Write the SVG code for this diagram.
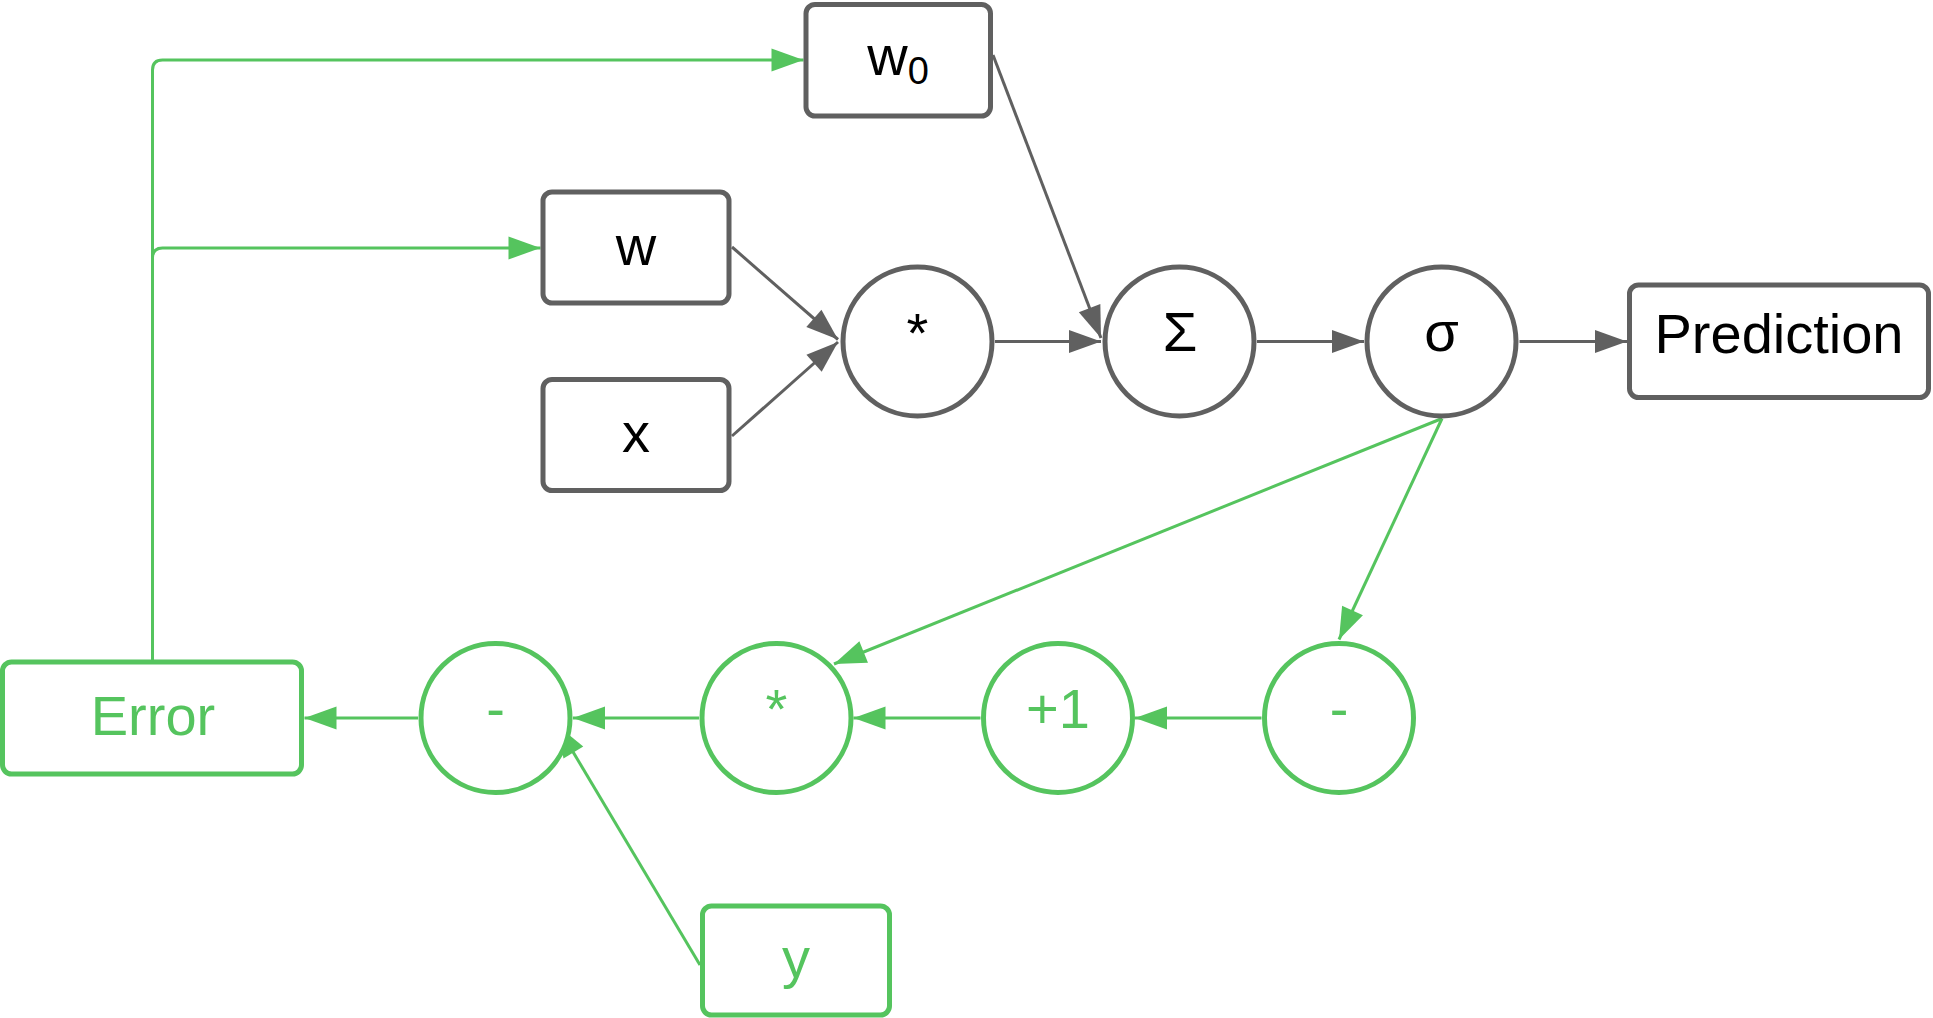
<svg xmlns="http://www.w3.org/2000/svg" width="1933" height="1018" viewBox="0 0 1933 1018">
  <style>
    .box-g { fill: #ffffff; stroke: #606060; stroke-width: 5; }
    .box-n { fill: #ffffff; stroke: #55c45e; stroke-width: 5; }
    .lbl { font-family: "Liberation Sans", Arial, sans-serif; font-size: 56px; text-anchor: middle; }
    .lbl-g { fill: #000000; }
    .lbl-n { fill: #55c45e; }
    .edge-g { fill: none; stroke: #606060; stroke-width: 3; marker-end: url(#arrow-g); }
    .edge-n { fill: none; stroke: #55c45e; stroke-width: 3; marker-end: url(#arrow-n); }
  </style>
  <defs>
    <marker id="arrow-g" markerUnits="userSpaceOnUse" markerWidth="34" markerHeight="24" viewBox="0 0 34 24" refX="33" refY="12" orient="auto">
      <path d="M1,0.5 L33,12 L1,23.5 Z" fill="#606060"/>
    </marker>
    <marker id="arrow-n" markerUnits="userSpaceOnUse" markerWidth="34" markerHeight="24" viewBox="0 0 34 24" refX="33" refY="12" orient="auto">
      <path d="M1,0.5 L33,12 L1,23.5 Z" fill="#55c45e"/>
    </marker>
  </defs>

  <rect width="1933" height="1018" fill="#ffffff"/>

  <!-- connectors -->
  <g id="connectors">
    <!-- forward pass -->
    <path class="edge-g" d="M732,247 L838,339.5"/>
    <path class="edge-g" d="M732,436 L838,342"/>
    <path class="edge-g" d="M993,55 L1101,338"/>
    <path class="edge-g" d="M995,341.5 L1101,341.5"/>
    <path class="edge-g" d="M1257,341.5 L1364,341.5"/>
    <path class="edge-g" d="M1519.5,341.5 L1627,341.5"/>
    <!-- backward pass -->
    <path class="edge-n" d="M1442,418.5 L834,664"/>
    <path class="edge-n" d="M1442,418.5 L1339,639.5"/>
    <path class="edge-n" d="M1261.5,718 L1135,718"/>
    <path class="edge-n" d="M980.5,718 L853.5,718"/>
    <path class="edge-n" d="M699,718 L573,718"/>
    <path class="edge-n" d="M418,718 L304.5,718"/>
    <path class="edge-n" d="M700,965 L557,725"/>
    <!-- weight updates -->
    <path class="edge-n" d="M152.5,662 V70 Q152.5,60 162.5,60 H803.5"/>
    <path class="edge-n" d="M152.5,258 Q152.5,248 162.5,248 H540.5"/>
  </g>

  <!-- forward nodes -->
  <g id="node-w0">
    <rect class="box-g" x="806" y="4.5" width="184.5" height="111.5" rx="9"/>
    <text class="lbl lbl-g" x="898" y="75">w<tspan font-size="38" dy="9">0</tspan></text>
  </g>
  <g id="node-w">
    <rect class="box-g" x="543" y="192" width="186" height="111" rx="9"/>
    <text class="lbl lbl-g" x="636" y="265">w</text>
  </g>
  <g id="node-x">
    <rect class="box-g" x="543" y="379.5" width="186" height="111" rx="9"/>
    <text class="lbl lbl-g" x="636" y="452">x</text>
  </g>
  <g id="node-mul">
    <circle class="box-g" cx="917.5" cy="341.5" r="74.5"/>
    <text class="lbl lbl-g" x="917.5" y="352">*</text>
  </g>
  <g id="node-sum">
    <circle class="box-g" cx="1179.5" cy="341.5" r="74.5"/>
    <text class="lbl lbl-g" x="1180" y="351">Σ</text>
  </g>
  <g id="node-sigmoid">
    <circle class="box-g" cx="1441.5" cy="341.5" r="74.5"/>
    <text class="lbl lbl-g" x="1441.5" y="351">σ</text>
  </g>
  <g id="node-prediction">
    <rect class="box-g" x="1629.5" y="285" width="299" height="112.5" rx="9"/>
    <text class="lbl lbl-g" x="1779" y="353">Prediction</text>
  </g>

  <!-- backward nodes -->
  <g id="node-neg">
    <circle class="box-n" cx="1339" cy="718" r="74.5"/>
    <text class="lbl lbl-n" x="1339" y="728">-</text>
  </g>
  <g id="node-plus1">
    <circle class="box-n" cx="1058" cy="718" r="74.5"/>
    <text class="lbl lbl-n" x="1058" y="728">+1</text>
  </g>
  <g id="node-mul2">
    <circle class="box-n" cx="776.5" cy="718" r="74.5"/>
    <text class="lbl lbl-n" x="776.5" y="728">*</text>
  </g>
  <g id="node-sub">
    <circle class="box-n" cx="495.5" cy="718" r="74.5"/>
    <text class="lbl lbl-n" x="495.5" y="728">-</text>
  </g>
  <g id="node-error">
    <rect class="box-n" x="2.5" y="662" width="299" height="112" rx="9"/>
    <text class="lbl lbl-n" x="153" y="735">Error</text>
  </g>
  <g id="node-y">
    <rect class="box-n" x="702.5" y="906" width="187" height="109" rx="9"/>
    <text class="lbl lbl-n" x="796" y="977">y</text>
  </g>
</svg>
